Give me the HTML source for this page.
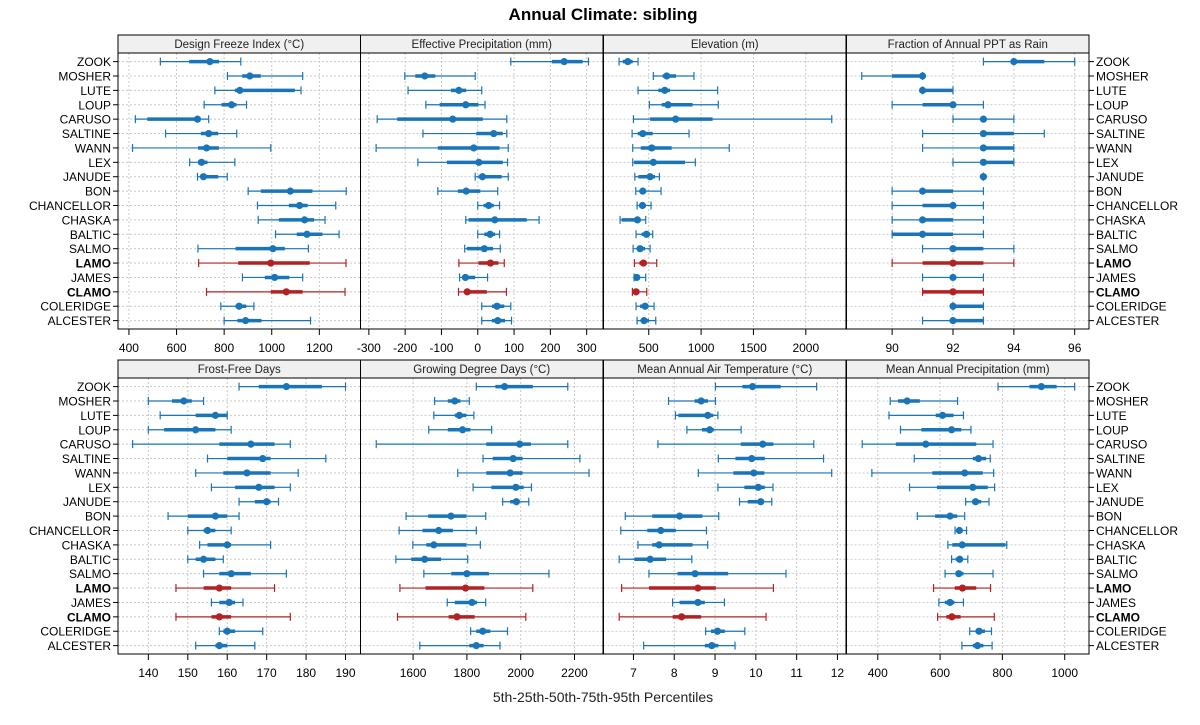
<!DOCTYPE html>
<html><head><meta charset="utf-8">
<style>
html,body{margin:0;padding:0;background:#fff;}
svg{display:block;font-family:"Liberation Sans",Arial,sans-serif;}
</style></head>
<body>
<svg id="chart" width="1200" height="725" viewBox="0 0 1200 725"></svg>
<script>
const sites = ["ZOOK","MOSHER","LUTE","LOUP","CARUSO","SALTINE","WANN","LEX","JANUDE","BON","CHANCELLOR","CHASKA","BALTIC","SALMO","LAMO","JAMES","CLAMO","COLERIDGE","ALCESTER"];
const highlighted = ["LAMO","CLAMO"];
const panelTitles = ["Design Freeze Index (°C)","Effective Precipitation (mm)","Elevation (m)","Fraction of Annual PPT as Rain","Frost-Free Days","Growing Degree Days (°C)","Mean Annual Air Temperature (°C)","Mean Annual Precipitation (mm)"];
const domains = [[354,1373],[-323,345],[68,2384],[88.5,96.47],[132.3,193.8],[1404.5,2306],[6.266,12.21],[299.6,1078]];
const ticks = [[400,600,800,1000,1200],[-300,-200,-100,0,100,200,300],[500,1000,1500,2000],[90,92,94,96],[140,150,160,170,180,190],[1600,1800,2000,2200],[7,8,9,10,11,12],[400,600,800,1000]];
// each row: [p5, p25, p50, p75, p95]
const dfi = [[532,653,740,779,870],[814,876,908,954,1130],[761,845,866,1097,1123],[716,789,831,852,894],[427,477,688,698,735],[554,702,735,775,853],[415,690,726,778,996],[655,690,705,730,845],[688,702,713,775,813],[901,954,1078,1171,1313],[940,1072,1117,1151,1269],[943,1030,1138,1178,1224],[1016,1105,1148,1213,1283],[690,848,1005,1055,1154],[693,859,996,1160,1312],[877,971,1012,1074,1130],[726,996,1061,1130,1308],[786,848,863,893,925],[800,856,890,957,1163]];
const effp = [[91,204,238,289,305],[-201,-172,-146,-117,-7],[-192,-74,-52,-32,11],[-143,-105,-33,2,20],[-277,-222,-69,14,80],[-151,-4,44,69,80],[-280,-110,-11,60,84],[-165,-85,3,69,82],[-7,2,13,66,84],[-110,-55,-32,7,55],[0,16,30,44,60],[-33,-25,47,135,169],[0,18,34,48,60],[-36,-30,18,42,62],[-52,2,35,57,73],[-50,-43,-34,-7,27],[-53,-37,-29,25,79],[11,39,53,73,91],[11,39,55,75,93]];
const elev = [[217,252,300,347,398],[544,633,672,761,932],[398,592,653,703,1158],[506,624,684,919,1164],[354,513,757,1110,2248],[341,395,443,538,885],[347,424,529,719,1269],[347,360,544,846,945],[367,401,513,560,602],[376,417,443,465,618],[389,411,440,471,522],[226,242,392,417,471],[379,433,478,513,538],[351,386,417,465,513],[363,411,449,481,576],[360,370,386,401,471],[344,360,379,411,481],[379,417,465,497,551],[389,424,455,503,567]];
const rain = [[93,94,94,95,96],[89,90,91,91,91],[91,91,91,92,92],[90,91,92,92,93],[92,93,93,93,94],[91,93,93,94,95],[91,93,93,94,94],[92,93,93,94,94],[93,93,93,93,93],[90,91,91,92,93],[90,91,92,92,93],[90,91,91,92,93],[90,90,91,92,93],[91,92,92,93,94],[90,91,92,93,94],[91,92,92,92,93],[91,91,92,93,93],[92,92,92,93,93],[91,92,92,93,93]];
const ffd = [[163,168,175,184,190],[140,146,149,151,154],[143,152,157,160,160],[140,144,152,157,161],[136,158,166,172,176],[155,160,169,171,185],[152,159,165,171,178],[156,162,168,172,176],[163,167,170,171,173],[145,150,157,160,163],[150,154,155,157,161],[153,155,160,161,171],[150,152,154,157,159],[154,158,161,166,175],[147,154,158,161,172],[156,158,160.5,162,164],[147,156,158,161,176],[158,159,160,162,169],[152,157,158,160,167]];
const gdd = [[1835,1906,1940,2045,2175],[1680,1729,1755,1776,1809],[1677,1755,1772,1798,1826],[1658,1729,1784,1813,1892],[1463,1872,1996,2038,2175],[1860,1896,1972,2007,2220],[1766,1872,1961,2007,2254],[1823,1891,1982,2011,2040],[1933,1961,1984,1996,2030],[1574,1656,1741,1798,1870],[1548,1635,1695,1748,1835],[1599,1649,1677,1798,1850],[1536,1593,1643,1704,1803],[1640,1742,1800,1882,2105],[1551,1646,1795,1865,2045],[1727,1755,1819,1838,1870],[1542,1732,1763,1829,2019],[1814,1835,1859,1887,1951],[1625,1809,1835,1862,1923]];
const maat = [[9.01,9.67,9.92,10.61,11.49],[7.86,8.50,8.66,8.83,9.01],[8.03,8.10,8.82,8.96,9.07],[8.31,8.68,8.87,8.97,9.64],[7.60,9.63,10.17,10.43,11.42],[9.08,9.50,9.90,10.22,11.66],[8.59,9.45,9.95,10.21,11.86],[9.07,9.72,10.06,10.22,10.42],[9.60,9.80,10.12,10.20,10.39],[6.80,7.46,8.13,8.69,9.09],[6.69,7.34,7.67,8.04,8.79],[7.11,7.46,7.63,8.45,8.82],[6.65,7.02,7.41,7.80,8.43],[7.38,8.08,8.51,9.32,10.74],[6.71,7.38,8.58,9.02,10.43],[7.96,8.13,8.58,8.75,9.23],[6.65,7.96,8.18,8.66,10.25],[8.77,8.90,9.06,9.24,9.73],[7.25,8.75,8.92,9.08,9.49]];
const map = [[786,887,925,974,1032],[440,465,494,535,656],[436,586,608,643,675],[473,540,637,668,699],[350,458,554,716,770],[517,705,723,748,761],[381,575,679,737,772],[502,590,705,753,775],[682,703,714,732,757],[527,584,632,655,679],[648,655,662,671,685],[625,639,671,810,814],[637,650,663,673,689],[616,652,660,675,770],[579,647,672,716,762],[596,615,632,646,675],[592,620,638,666,774],[695,714,725,744,765],[670,705,720,739,767]];
const series = [dfi,effp,elev,rain,ffd,gdd,maat,map];
const panelNames = ["design-freeze-index","effective-precipitation","elevation","fraction-ppt-rain","frost-free-days","growing-degree-days","mean-annual-air-temp","mean-annual-precipitation"];

const NS="http://www.w3.org/2000/svg";
const svg=document.getElementById('chart');
function mk(tag,attrs,parent){const e=document.createElementNS(NS,tag);for(const k in attrs)e.setAttribute(k,attrs[k]);(parent||svg).appendChild(e);return e;}
const BLUE="#1a75b8", RED="#b22222";
const colX=[118,360.5,603.5,846.5], colW=242.5;
const rowTop=[35,360], headH=18, plotH=276;

const title=mk('text',{x:603,y:20,'text-anchor':'middle','font-size':17,'font-weight':'bold',fill:'#000'});
title.textContent="Annual Climate: sibling";



for(let p=0;p<8;p++){
  const c=p%4, r=Math.floor(p/4);
  const x0=colX[c], y0=rowTop[r], pt=y0+headH, pb=pt+plotH;
  const dom=domains[p];
  const sx=v=>x0+(v-dom[0])/(dom[1]-dom[0])*colW;
  const sy=i=>pt+8.6+i*14.39;
  const g=mk('g',{});
  
  
  const hd=mk('rect',{x:x0,y:y0,width:colW,height:headH,fill:'#f0f0f0',stroke:'#000','stroke-width':1},g);
  
  
  const ht=mk('text',{x:x0+colW/2,y:y0+13,'text-anchor':'middle','font-size':11.5,fill:'#222'},g);
  ht.textContent=panelTitles[p];
  
  
  // grid
  ticks[p].forEach(t=>{mk('line',{x1:sx(t),x2:sx(t),y1:pt,y2:pb,stroke:'#c8c8c8','stroke-width':1,'stroke-dasharray':'2,2'},g);});
  sites.forEach((s,i)=>{mk('line',{x1:x0,x2:x0+colW,y1:sy(i),y2:sy(i),stroke:'#c8c8c8','stroke-width':1,'stroke-dasharray':'2,2'},g);});
  // frame
  mk('rect',{x:x0,y:pt,width:colW,height:plotH,fill:'none',stroke:'#000','stroke-width':1},g);
  // ticks
  ticks[p].forEach(t=>{
    mk('line',{x1:sx(t),x2:sx(t),y1:pb,y2:pb+6,stroke:'#000','stroke-width':1},g);
    const tl=mk('text',{x:sx(t),y:pb+23,'text-anchor':'middle','font-size':12,fill:'#000'},g);
    tl.textContent=String(t);
    
    
  });
  // marks
  series[p].forEach((d,i)=>{
    const col=highlighted.includes(sites[i])?RED:BLUE;
    const y=sy(i);
    const m=mk('g',{},g);
    
    
    mk('line',{x1:sx(d[0]),x2:sx(d[4]),y1:y,y2:y,stroke:col,'stroke-width':1.2},m);
    mk('line',{x1:sx(d[0]),x2:sx(d[0]),y1:y-4,y2:y+4,stroke:col,'stroke-width':1.2},m);
    mk('line',{x1:sx(d[4]),x2:sx(d[4]),y1:y-4,y2:y+4,stroke:col,'stroke-width':1.2},m);
    mk('line',{x1:sx(d[1]),x2:sx(d[3]),y1:y,y2:y,stroke:col,'stroke-width':3.5},m);
    mk('circle',{cx:sx(d[2]),cy:y,r:3.6,fill:col},m);
  });
  // row labels
  if(c===0||c===3){
    sites.forEach((s,i)=>{
      const left=c===0;
      mk('line',{x1:left?x0-5:x0+colW,x2:left?x0:x0+colW+5,y1:sy(i),y2:sy(i),stroke:'#000','stroke-width':1},g);
      const lb=mk('text',{x:left?x0-7:x0+colW+7,y:sy(i)+4.5,'text-anchor':left?'end':'start','font-size':12,fill:'#000','font-weight':highlighted.includes(s)?'bold':'normal'},g);
      lb.textContent=s;
      
      
    });
  }
}
const xl=mk('text',{x:603,y:702,'text-anchor':'middle','font-size':14,fill:'#222'});
xl.textContent="5th-25th-50th-75th-95th Percentiles";


</script>
</body></html>
